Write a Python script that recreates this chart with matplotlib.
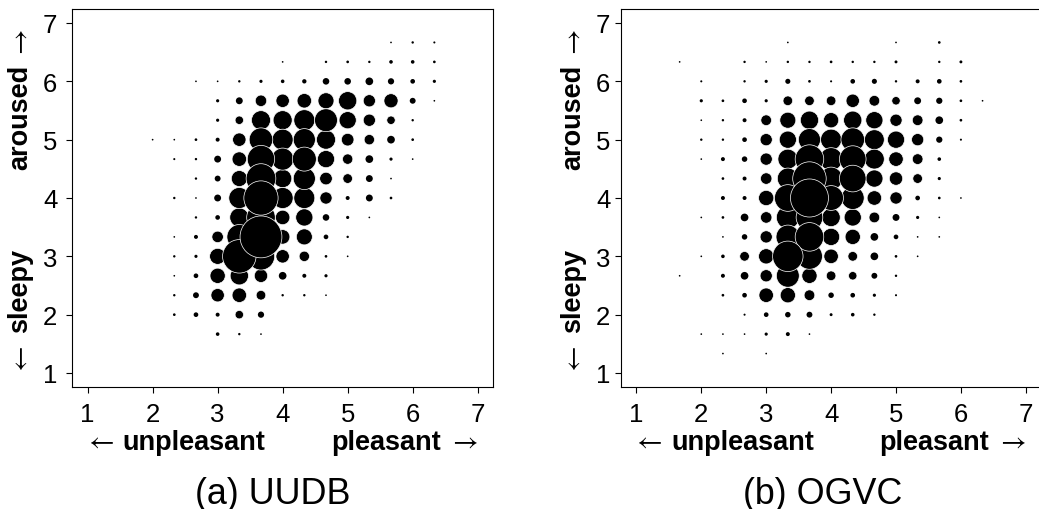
import numpy as np
import matplotlib.pyplot as plt
from matplotlib.transforms import blended_transform_factory

plt.rcParams.update({
    "font.family": ["Liberation Sans", "DejaVu Sans"],
    "axes.edgecolor": "black",
    "axes.linewidth": 0.8,
    "xtick.color": "black",
    "ytick.color": "black",
})

# rating grid (steps of 1/3 on the 1-7 scale)
valence_levels = [5/3, 2, 7/3, 8/3, 3, 10/3, 11/3, 4, 13/3, 14/3, 5, 16/3, 17/3, 6, 19/3]
arousal_levels = [20/3, 19/3, 6, 17/3, 16/3, 5, 14/3, 13/3, 4, 11/3, 10/3, 3, 8/3, 7/3, 2, 5/3, 4/3]

# number of utterances per (arousal row, valence column)
uudb_counts = [
    [0, 0, 0, 0, 0, 0, 0, 0, 0, 0, 0, 0, 1, 3, 2],
    [0, 0, 0, 0, 0, 0, 0, 1, 0, 3, 4, 3, 8, 8, 4],
    [0, 0, 0, 1, 1, 3, 6, 8, 12, 29, 29, 40, 26, 14, 6],
    [0, 0, 0, 0, 6, 32, 90, 123, 144, 176, 230, 102, 137, 23, 1],
    [0, 0, 0, 0, 6, 48, 250, 250, 303, 360, 203, 102, 48, 3, 0],
    [0, 1, 1, 4, 10, 123, 384, 303, 336, 250, 109, 73, 40, 4, 0],
    [0, 0, 2, 3, 32, 144, 518, 336, 397, 203, 73, 40, 6, 1, 0],
    [0, 0, 0, 3, 23, 176, 608, 230, 336, 109, 63, 32, 1, 0, 0],
    [0, 0, 3, 1, 32, 303, 810, 303, 303, 102, 10, 32, 4, 0, 0],
    [0, 0, 0, 3, 14, 250, 563, 144, 203, 29, 6, 1, 0, 0, 0],
    [0, 0, 1, 10, 90, 423, 1210, 144, 176, 14, 3, 0, 0, 0, 0],
    [0, 0, 3, 6, 176, 774, 518, 123, 73, 4, 1, 0, 0, 0, 0],
    [0, 0, 1, 14, 160, 230, 123, 40, 10, 6, 0, 0, 0, 0, 0],
    [0, 0, 3, 23, 123, 144, 63, 3, 3, 1, 0, 0, 0, 0, 0],
    [0, 0, 4, 14, 10, 48, 26, 0, 0, 0, 0, 0, 0, 0, 0],
    [0, 0, 0, 0, 8, 3, 1, 0, 0, 0, 0, 0, 0, 0, 0],
    [0, 0, 0, 0, 0, 0, 0, 0, 0, 0, 0, 0, 0, 0, 0],
]

ogvc_counts = [
    [0, 0, 0, 0, 0, 1, 0, 0, 0, 0, 1, 0, 4, 0, 0],
    [1, 0, 0, 3, 1, 3, 3, 4, 3, 3, 5, 0, 3, 5, 0],
    [0, 2, 0, 3, 6, 17, 4, 2, 14, 17, 3, 10, 14, 4, 0],
    [0, 6, 4, 14, 6, 63, 63, 63, 123, 78, 48, 32, 26, 4, 1],
    [0, 1, 3, 10, 78, 176, 230, 160, 230, 203, 102, 78, 40, 4, 0],
    [0, 3, 3, 14, 102, 203, 336, 303, 384, 270, 203, 102, 26, 2, 0],
    [0, 1, 10, 20, 102, 270, 563, 360, 490, 270, 144, 78, 8, 0, 0],
    [0, 0, 4, 10, 90, 303, 774, 360, 490, 203, 123, 63, 6, 0, 0],
    [0, 0, 10, 10, 160, 490, 1000, 423, 360, 144, 102, 14, 4, 1, 0],
    [0, 1, 4, 40, 90, 360, 490, 230, 203, 78, 32, 6, 1, 0, 0],
    [0, 0, 1, 20, 102, 384, 563, 203, 160, 40, 14, 1, 1, 0, 0],
    [0, 1, 8, 63, 160, 640, 462, 144, 63, 40, 4, 1, 0, 0, 0],
    [1, 0, 10, 40, 102, 360, 160, 63, 48, 23, 3, 0, 0, 0, 0],
    [0, 0, 4, 14, 144, 160, 78, 20, 14, 6, 2, 0, 0, 0, 0],
    [0, 0, 0, 2, 14, 20, 23, 5, 8, 3, 0, 0, 0, 0, 0],
    [0, 1, 1, 1, 6, 10, 1, 0, 0, 0, 0, 0, 0, 0, 0],
    [0, 0, 1, 0, 1, 0, 0, 0, 0, 0, 0, 0, 0, 0, 0],
]

ticks = [1, 2, 3, 4, 5, 6, 7]
ARROW_FONT = "STIXGeneral"


def bubble_panel(ax, counts, ylab_x, ytick_pad):
    vv, aa = np.meshgrid(valence_levels, arousal_levels)
    c = np.asarray(counts, dtype=float)
    keep = c > 0
    x, y, c = vv[keep], aa[keep], c[keep]
    order = np.argsort(c, kind="stable")
    x, y, c = x[order], y[order], c[order]

    # circle area proportional to count
    sizes = 0.75 * (c + 1)
    lw = np.where(np.sqrt(sizes) > 6, 0.5, 0.0)
    ax.scatter(x, y, s=sizes, marker="o", facecolors="black",
               edgecolors="white", linewidths=lw)

    ax.set_xlim(0.76, 7.24)
    ax.set_ylim(0.76, 7.24)
    ax.set_xticks(ticks)
    ax.set_yticks(ticks)
    ax.tick_params(direction="out", length=4.5, width=0.8, labelsize=18.5, pad=6)
    ax.tick_params(axis="y", pad=ytick_pad)

    # valence label along x
    tx = blended_transform_factory(ax.transData, ax.transAxes)
    ax.text(1.0, -0.164, "\u2190", transform=tx, ha="left", va="baseline",
            fontsize=20, family=ARROW_FONT)
    ax.text(1.54, -0.164, "unpleasant", transform=tx, ha="left", va="baseline",
            fontsize=19.5, fontweight="bold")
    ax.text(6.44, -0.164, "pleasant", transform=tx, ha="right", va="baseline",
            fontsize=19.5, fontweight="bold")
    ax.text(7.0, -0.164, "\u2192", transform=tx, ha="right", va="baseline",
            fontsize=20, family=ARROW_FONT)

    # arousal label along y
    ty = blended_transform_factory(ax.transAxes, ax.transData)
    kw = dict(transform=ty, rotation=90, rotation_mode="anchor", va="baseline")
    ax.text(ylab_x, 1.06, "\u2190", ha="left", fontsize=20, family=ARROW_FONT, **kw)
    ax.text(ylab_x, 1.70, "sleepy", ha="left", fontsize=19.5, fontweight="bold", **kw)
    ax.text(ylab_x, 6.30, "aroused", ha="right", fontsize=19.5, fontweight="bold", **kw)
    ax.text(ylab_x, 6.95, "\u2192", ha="right", fontsize=20, family=ARROW_FONT, **kw)


fig = plt.figure(figsize=(10.39, 5.10), dpi=100)
ax_a = fig.add_axes([72 / 1039, 122 / 510, 421.3 / 1039, 378 / 510])
ax_b = fig.add_axes([620.8 / 1039, 122 / 510, 420.6 / 1039, 378 / 510])

bubble_panel(ax_a, uudb_counts, -0.107, 6)
bubble_panel(ax_b, ogvc_counts, -0.097, 3)

fig.text(272.5 / 1039, 6 / 510, "(a) UUDB", ha="center", va="baseline", fontsize=25.8)
fig.text(822.7 / 1039, 6 / 510, "(b) OGVC", ha="center", va="baseline", fontsize=25.8)

fig.savefig("out.png", dpi=100)
